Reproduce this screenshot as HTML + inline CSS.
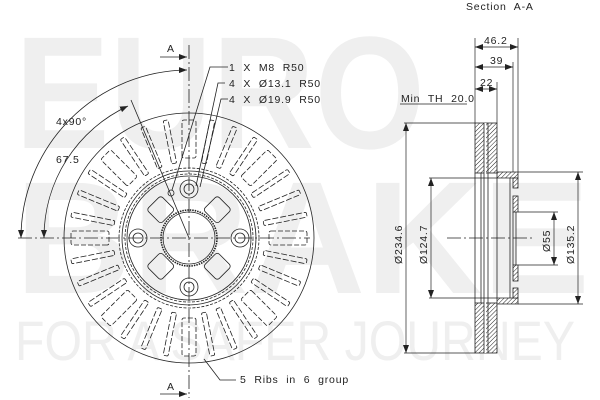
<!DOCTYPE html>
<html><head><meta charset="utf-8"><style>
html,body{margin:0;padding:0;background:#fff;}
svg{display:block;font-family:"Liberation Sans",sans-serif;}
.t{letter-spacing:0.8px;word-spacing:4px;}
</style></head><body>
<svg id="s" width="600" height="400" viewBox="0 0 600 400" xmlns="http://www.w3.org/2000/svg">
<defs>
<pattern id="h" width="3" height="3" patternUnits="userSpaceOnUse" patternTransform="rotate(45)">
<rect width="3" height="3" fill="#fff"/><line x1="0" y1="0" x2="0" y2="3" stroke="#222" stroke-width="1"/></pattern>
<marker id="ar" markerWidth="8" markerHeight="6" refX="8" refY="3" orient="auto" markerUnits="userSpaceOnUse"><path d="M0,0 L8,3 L0,6z" fill="#222"/></marker>
<marker id="al" markerWidth="8" markerHeight="6" refX="0" refY="3" orient="auto" markerUnits="userSpaceOnUse"><path d="M8,0 L0,3 L8,6z" fill="#222"/></marker>
</defs>
<g fill="#efefef" font-weight="bold">
<text x="15" y="148" font-size="160" textLength="410" lengthAdjust="spacingAndGlyphs">EURO</text>
<text x="15" y="293" font-size="160" textLength="575" lengthAdjust="spacingAndGlyphs">BRAKE</text>
</g>
<text x="15" y="360" font-size="56" fill="#efefef" textLength="560" lengthAdjust="spacingAndGlyphs">FOR A SAFER JOURNEY</text>

<g id="disc" stroke="#222" fill="none" stroke-width="0.8"></g>

<g stroke="#222" fill="none" stroke-width="0.8">
<line x1="189" y1="45" x2="189" y2="398" stroke-dasharray="14,3,2,3"/>
<line x1="18" y1="238" x2="310" y2="238" stroke-dasharray="14,3,2,3"/>
<line x1="160" y1="57" x2="187" y2="57" marker-end="url(#ar)"/>
<line x1="160" y1="394" x2="187" y2="394" marker-end="url(#ar)"/>
<path d="M21,238 A168,168 0 0 1 187,70" marker-start="url(#al)" marker-end="url(#ar)"/>
<path d="M44,238 A145,145 0 0 1 128,106" marker-start="url(#al)" marker-end="url(#ar)"/>
<line x1="131" y1="100" x2="189" y2="238"/>
<polyline points="228,67 210,67 172,190"/>
<circle cx="171" cy="193" r="3"/>
<polyline points="225,83 218,83 196,186"/>
<polyline points="228,99 221,99 200,187"/>
<polyline points="236,380 220,380 204,359"/>
</g>
<g font-size="10.5" fill="#222" class="t">
<text x="167" y="52">A</text>
<text x="167" y="390">A</text>
<text x="229" y="71">1 X M8 R50</text>
<text x="229" y="87">4 X Ø13.1 R50</text>
<text x="229" y="103">4 X Ø19.9 R50</text>
<text x="56" y="125">4x90°</text>
<text x="56" y="163">67.5</text>
<text x="240" y="383">5 Ribs in 6 group</text>
<text x="466" y="10">Section A-A</text>
</g>

<g stroke="#222" stroke-width="0.8">
<rect x="475" y="123" width="22" height="50" fill="url(#h)"/>
<rect x="475" y="303" width="22" height="50" fill="url(#h)"/>
<path d="M497,172 L518,172 L518,178 L497,178z" fill="url(#h)"/>
<path d="M497,298 L518,298 L518,304 L497,304z" fill="url(#h)"/>
<rect x="513" y="178" width="5" height="10" fill="url(#h)"/>
<rect x="513" y="196" width="5" height="16" fill="url(#h)"/>
<rect x="513" y="265" width="5" height="16" fill="url(#h)"/>
<rect x="513" y="288" width="5" height="10" fill="url(#h)"/>
<line x1="485" y1="123" x2="485" y2="353" stroke="#fff" stroke-width="2"/>
<line x1="484" y1="123" x2="484" y2="353"/>
<line x1="488" y1="123" x2="488" y2="353"/>
<line x1="475" y1="173" x2="475" y2="303"/>
<line x1="481" y1="173" x2="481" y2="303"/>
<line x1="497" y1="178" x2="497" y2="298"/>
<line x1="510" y1="178" x2="510" y2="298"/>
<line x1="513" y1="212" x2="513" y2="265"/>
<line x1="516" y1="212" x2="516" y2="265"/>
</g>
<g stroke="#222" fill="none" stroke-width="0.7">
<line x1="475" y1="38" x2="475" y2="123"/>
<line x1="518" y1="38" x2="518" y2="172"/>
<line x1="513" y1="62" x2="513" y2="172"/>
<line x1="497" y1="82" x2="497" y2="123"/>
<line x1="475" y1="47" x2="518" y2="47" marker-start="url(#al)" marker-end="url(#ar)"/>
<line x1="475" y1="67" x2="513" y2="67" marker-start="url(#al)" marker-end="url(#ar)"/>
<line x1="475" y1="89" x2="497" y2="89" marker-start="url(#al)" marker-end="url(#ar)"/>
<line x1="400" y1="104" x2="467" y2="104"/>
<line x1="404" y1="123" x2="475" y2="123"/>
<line x1="404" y1="353" x2="475" y2="353"/>
<line x1="406" y1="123" x2="406" y2="353" marker-start="url(#al)" marker-end="url(#ar)"/>
<line x1="429" y1="178" x2="497" y2="178"/>
<line x1="429" y1="298" x2="497" y2="298"/>
<line x1="431" y1="178" x2="431" y2="298" marker-start="url(#al)" marker-end="url(#ar)"/>
<line x1="518" y1="172" x2="583" y2="172"/>
<line x1="518" y1="304" x2="583" y2="304"/>
<line x1="578" y1="172" x2="578" y2="304" marker-start="url(#al)" marker-end="url(#ar)"/>
<line x1="518" y1="212" x2="558" y2="212"/>
<line x1="518" y1="265" x2="558" y2="265"/>
<line x1="554" y1="212" x2="554" y2="265" marker-start="url(#al)" marker-end="url(#ar)"/>
<line x1="447" y1="238" x2="532" y2="238" stroke-dasharray="14,3,2,3"/>
</g>
<g font-size="10.5" fill="#222" class="t">
<text x="484" y="44">46.2</text>
<text x="490" y="64">39</text>
<text x="480" y="86">22</text>
<text x="401" y="102">Min TH 20.0</text>
<text transform="translate(402,264) rotate(-90)">Ø234.6</text>
<text transform="translate(427,264) rotate(-90)">Ø124.7</text>
<text transform="translate(550,252) rotate(-90)">Ø55</text>
<text transform="translate(574,264) rotate(-90)">Ø135.2</text>
</g>
</svg>
<script>
(function(){
var g=document.getElementById('disc'),ns='http://www.w3.org/2000/svg',cx=189,cy=238;
function el(t,a){var e=document.createElementNS(ns,t);for(var k in a)e.setAttribute(k,a[k]);g.appendChild(e);return e;}
el('circle',{cx:cx,cy:cy,r:125});
[62,64,67,70].forEach(function(r,i){el('circle',{cx:cx,cy:cy,r:r,'stroke-dasharray':i%2?'3,1.5':''});});
el('circle',{cx:cx,cy:cy,r:28,'stroke-dasharray':'1.5,1','stroke-width':1.6});
el('circle',{cx:cx,cy:cy,r:26});
[[0,-49],[0,49],[-51,0],[51,0]].forEach(function(p){
 el('circle',{cx:cx+p[0],cy:cy+p[1],r:9});el('circle',{cx:cx+p[0],cy:cy+p[1],r:5});});
[45,135,225,315].forEach(function(a){
 var rad=a*Math.PI/180,x=cx+40*Math.cos(rad),y=cy+40*Math.sin(rad);
 el('rect',{x:x-10,y:y-10,width:20,height:20,rx:3,transform:'rotate('+(a)+' '+x+' '+y+')'});});
for(var k=0;k<8;k++){
 var base=k*45;
 el('rect',{x:cx+80,y:cy-7,width:38,height:14,rx:2,'stroke-dasharray':'5,2',transform:'rotate('+base+' '+cx+' '+cy+')'});
 for(var j=1;j<=3;j++){
  var a=base+j*11.25;
  el('rect',{x:cx+76,y:cy-2.5,width:44,height:5,rx:1.5,'stroke-dasharray':'6,2',transform:'rotate('+a+' '+cx+' '+cy+')'});
 }
}
})();
</script>
</body></html>
